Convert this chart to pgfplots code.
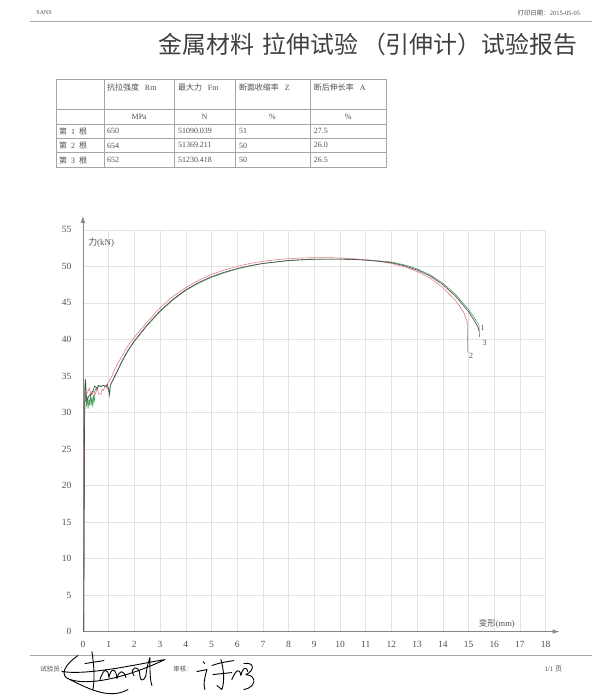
\documentclass[border=0pt]{standalone}
\usepackage{fontspec}
\setmainfont{Liberation Serif}
\newfontfamily\cjk{Noto Sans CJK SC}
\usepackage{pgfplots}
\pgfplotsset{compat=1.18}
\usetikzlibrary{arrows.meta}

\definecolor{c1}{RGB}{70,70,70}
\definecolor{c2}{RGB}{225,125,135}
\definecolor{c3}{RGB}{80,160,100}
\definecolor{gridc}{RGB}{226,226,226}
\definecolor{axc}{RGB}{135,135,135}
\definecolor{tabc}{RGB}{165,165,165}
\definecolor{txt}{RGB}{80,80,80}

\begin{document}
\begin{tikzpicture}
\fill[white] (0bp,0bp) rectangle (600bp,700bp);

% page furniture, written in pixel coordinates (y downwards)
\begin{scope}[x=1bp,y=-1bp,shift={(0,-700)}]
  \node[anchor=west,text=txt,font=\fontsize{6}{7}\selectfont] at (33,13) {SANS};
  \node[anchor=east,text=txt,font=\fontsize{6.5}{7}\selectfont] at (584,13) {{\cjk 打印日期：}2015-05-05};
  \draw[gray!70,line width=0.6bp] (30,21) -- (592,21);
  \node[anchor=east,text=black!75,font=\cjk\fontsize{24}{28}\selectfont] at (581,44)
    {金属材料\hspace{8bp}拉伸试验\hspace{4bp}（引伸计）试验报告};

  % result table
  \draw[tabc,line width=0.5bp] (56,79.3) rectangle (386.7,167.7);
  \foreach \yy in {109.3,124,138.3,152.7} \draw[tabc,line width=0.5bp] (56,\yy) -- (386.7,\yy);
  \foreach \xx in {104.3,174.3,235,310} \draw[tabc,line width=0.5bp] (\xx,79.3) -- (\xx,167.7);
  \begin{scope}[every node/.style={text=txt,font=\fontsize{8}{9}\selectfont,inner sep=0pt}]
    \node[anchor=west] at (107,88) {{\cjk 抗拉强度}\hspace{6bp}Rm};
    \node[anchor=west] at (178,88) {{\cjk 最大力}\hspace{6bp}Fm};
    \node[anchor=west] at (239,88) {{\cjk 断面收缩率}\hspace{6bp}Z};
    \node[anchor=west] at (314,88) {{\cjk 断后伸长率}\hspace{6bp}A};
    \node at (139.3,116.6) {MPa};
    \node at (204.6,116.6) {N};
    \node at (272.5,116.6) {\%};
    \node at (348.3,116.6) {\%};
    \node[anchor=west] at (59,131.2) {{\cjk 第}\hspace{4bp}1\hspace{4bp}{\cjk 根}};
    \node[anchor=west] at (59,145.5) {{\cjk 第}\hspace{4bp}2\hspace{4bp}{\cjk 根}};
    \node[anchor=west] at (59,160.2) {{\cjk 第}\hspace{4bp}3\hspace{4bp}{\cjk 根}};
    \node[anchor=west] at (107,131.2) {650};
    \node[anchor=west] at (107,145.5) {654};
    \node[anchor=west] at (107,160.2) {652};
    \node[anchor=west] at (178,131.2) {51090.039};
    \node[anchor=west] at (178,145.5) {51369.211};
    \node[anchor=west] at (178,160.2) {51230.418};
    \node[anchor=west] at (239,131.2) {51};
    \node[anchor=west] at (239,145.5) {50};
    \node[anchor=west] at (239,160.2) {50};
    \node[anchor=west] at (314,131.2) {27.5};
    \node[anchor=west] at (314,145.5) {26.0};
    \node[anchor=west] at (314,160.2) {26.5};
  \end{scope}

  % footer
  \draw[gray!70,line width=0.6bp] (30,656) -- (592,656);
  \node[anchor=west,text=txt,font=\cjk\fontsize{6.5}{8}\selectfont] at (37,669) {试验员：};
  \node[anchor=west,text=txt,font=\cjk\fontsize{6.5}{8}\selectfont] at (170,669) {审核：};
  \node[anchor=east,text=txt,font=\fontsize{7}{8}\selectfont] at (566,669) {1/1 {\cjk 页}};

  % signatures
  \begin{scope}[black,line width=0.9bp,line cap=round,line join=round]
    \draw (78,656) .. controls (66,664) and (58,676) .. (70,680)
          .. controls (95,688) and (140,672) .. (165,660)
          .. controls (140,664) and (90,676) .. (62,672);
    \draw (70,680) .. controls (90,690) and (110,700) .. (128,690);
    \draw (92,652) .. controls (94,665) and (95,680) .. (93,690);
    \draw (85,664) -- (104,661);
    \draw (100,680) .. controls (104,668) and (108,668) .. (109,678)
          .. controls (111,668) and (116,668) .. (117,679)
          .. controls (119,670) and (124,670) .. (126,678);
    \draw (134,676) .. controls (128,668) and (140,664) .. (140,676)
          .. controls (140,682) and (144,682) .. (146,676)
          .. controls (147,666) and (149,662) .. (150,658)
          .. controls (150,670) and (150,680) .. (152,686);
    \draw (203,662) -- (205,664);
    \draw (197,672) -- (207,670) .. controls (205,678) and (203,684) .. (205,690);
    \draw (212,666) .. controls (220,663) and (228,662) .. (234,661);
    \draw (221,660) .. controls (224,670) and (225,682) .. (222,690) -- (217,686);
    \draw (213,675) -- (232,673);
    \draw (232,680) .. controls (236,670) and (240,668) .. (241,676)
          .. controls (243,668) and (246,666) .. (248,672);
    \draw (244,664) .. controls (256,662) and (254,672) .. (246,675)
          .. controls (258,676) and (256,688) .. (244,690);
  \end{scope}
\end{scope}

\begin{axis}[
    at={(83bp,68bp)}, anchor=south west,
    scale only axis,
    width=463bp, height=402bp,
    xmin=0, xmax=18, ymin=0, ymax=55,
    xtick={0,1,...,18}, ytick={0,5,...,55},
    grid=major,
    grid style={gridc, line width=0.5bp},
    axis lines=left,
    axis line style={axc, line width=0.8bp, -{Latex[length=7bp,width=4.5bp]}, shorten >=-14bp},
    major tick length=0pt,
    tick label style={font=\fontsize{9.5}{10}\selectfont, text=txt},
    xticklabel style={yshift=-6bp, text height=6.5bp, text depth=0bp},
    yticklabel style={xshift=-8bp},
    /pgf/number format/assume math mode=true,
    clip=false,
]

% specimen 3
\addplot[c3, line width=0.6bp] coordinates {
  (0.03,0) (0.045,15) (0.06,28) (0.07,32.5) (0.08,34.0) (0.10,31.5) (0.12,32.6)
  (0.14,30.8) (0.17,32.2) (0.20,30.5) (0.23,31.8) (0.26,30.9) (0.29,32.6) (0.32,31.0)
  (0.35,32.1) (0.38,30.7) (0.41,32.4) (0.44,31.4) (0.47,32.9) (0.50,33.3) (0.60,33.6)
  (0.70,33.5) (0.80,33.7) (0.90,33.6) (1.00,33.0) (1.04,32.5) (1.07,33.7) (1.10,34.0)
  (1.20,34.6) (1.35,35.7) (1.50,36.8) (1.75,38.4) (2.0,39.7) (2.5,41.9) (3.0,43.8)
  (3.5,45.4) (4.0,46.7) (4.5,47.7) (5.0,48.5) (5.5,49.1) (6.0,49.65) (6.5,50.05)
  (7.0,50.4) (7.5,50.6) (8.0,50.8) (8.5,50.9) (9.0,50.95) (9.5,51.0) (10.0,51.0)
  (10.5,50.95) (11.0,50.9) (11.5,50.75) (12.0,50.6) (12.5,50.2) (13.0,49.65)
  (13.5,48.85) (14.0,47.7) (14.5,46.15) (15.0,44.1) (15.2,43.1) (15.4,42.0)
  (15.42,41.0) (15.43,40.3)
};

% specimen 2
\addplot[c2, line width=0.6bp] coordinates {
  (0.03,0) (0.05,18) (0.07,30) (0.09,33.4) (0.12,32.5) (0.18,32.8) (0.25,33.3)
  (0.30,32.6) (0.35,32.4) (0.40,33.0) (0.45,32.5) (0.50,32.7) (0.55,33.3) (0.60,32.6)
  (0.70,32.5) (0.75,33.2) (0.80,33.0) (0.85,33.5) (0.90,33.7) (0.95,34.0) (1.00,34.2)
  (1.10,34.8) (1.20,35.6) (1.35,36.7) (1.50,37.6) (1.75,39.1) (2.0,40.3) (2.5,42.4)
  (3.0,44.3) (3.5,45.9) (4.0,47.1) (4.5,48.1) (5.0,48.9) (5.5,49.5) (6.0,50.0)
  (6.5,50.4) (7.0,50.7) (7.5,50.9) (8.0,51.05) (8.5,51.15) (9.0,51.2) (9.5,51.2)
  (10.0,51.15) (10.5,51.05) (11.0,50.9) (11.5,50.7) (12.0,50.4) (12.5,49.95)
  (13.0,49.3) (13.5,48.4) (14.0,47.1) (14.5,45.3) (14.8,43.8) (14.95,42.4)
  (14.96,40.0) (14.97,38.2)
};

% specimen 1
\addplot[c1, line width=0.6bp] coordinates {
  (0.03,0) (0.04,8) (0.05,18) (0.06,27) (0.07,31) (0.08,33.5) (0.09,34.6) (0.11,34.0)
  (0.13,32.2) (0.16,31.6) (0.20,32.0) (0.25,32.4) (0.30,32.3) (0.35,32.8) (0.40,33.0)
  (0.45,33.6) (0.50,33.5) (0.55,33.2) (0.60,33.7) (0.70,33.6) (0.80,33.7) (0.90,33.5)
  (0.95,33.8) (1.00,33.2) (1.03,32.4) (1.06,33.6) (1.10,34.0) (1.20,34.7) (1.35,35.8)
  (1.50,36.9) (1.75,38.5) (2.0,39.8) (2.5,42.0) (3.0,43.9) (3.5,45.5) (4.0,46.8)
  (4.5,47.8) (5.0,48.6) (5.5,49.2) (6.0,49.7) (6.5,50.1) (7.0,50.4) (7.5,50.6)
  (8.0,50.8) (8.5,50.9) (9.0,51.0) (9.5,51.0) (10.0,51.0) (10.5,50.95) (11.0,50.85)
  (11.5,50.7) (12.0,50.5) (12.5,50.1) (13.0,49.5) (13.5,48.7) (14.0,47.5) (14.5,45.9)
  (15.0,43.8) (15.2,42.7) (15.38,41.6) (15.4,41.2)
};

\node[anchor=west, text=txt, font=\fontsize{8}{9}\selectfont, inner sep=1bp] at (axis cs:15.42,41.6) {1};
\node[anchor=west, text=txt, font=\fontsize{8}{9}\selectfont, inner sep=1bp] at (axis cs:15.50,39.5) {3};
\node[anchor=west, text=txt, font=\fontsize{8}{9}\selectfont, inner sep=1bp] at (axis cs:14.98,37.8) {2};
\node[anchor=west, text=txt, font=\fontsize{9}{10}\selectfont, inner sep=0pt] at (axis cs:0.2,53.2) {{\cjk 力}(kN)};
\node[text=txt, font=\fontsize{8.5}{10}\selectfont, inner sep=0pt] at (axis cs:16.1,1.1) {{\cjk 变形}(mm)};
\end{axis}
\end{tikzpicture}
\end{document}
